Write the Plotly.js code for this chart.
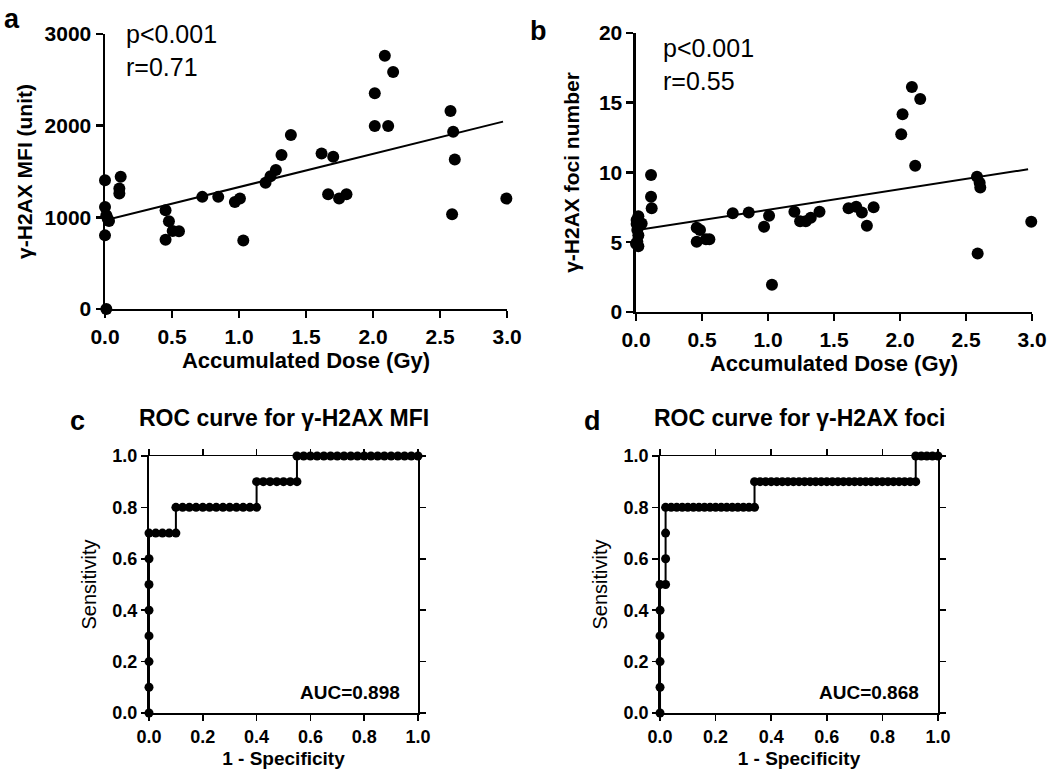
<!DOCTYPE html>
<html>
<head>
<meta charset="utf-8">
<script src="https://cdn.plot.ly/plotly-3.0.1.min.js"></script>
<style>
  body { margin: 0; background: #fff; }
  #chart { width: 1050px; height: 774px; }
</style>
</head>
<body>
<div id="chart"></div>
<script>
// panel a: MFI vs accumulated dose
const doseA = [0, 0, 0.01, 0.02, 0.03, 0, 0.01, 0.117, 0.107, 0.107, 0.452, 0.452, 0.477, 0.505, 0.552,
  0.726, 0.845, 0.969, 1.007, 1.032, 1.198, 1.235, 1.275, 1.317, 1.387, 1.616, 1.703, 1.665, 1.747, 1.802,
  2.013, 2.013, 2.088, 2.15, 2.113, 2.578, 2.598, 2.61, 2.59, 2.995];
const mfiA = [1405, 1113, 1022, 985, 960, 803, 0, 1442, 1314, 1259, 1077, 755, 956, 850, 847,
  1223, 1223, 1168, 1204, 748, 1376, 1449, 1515, 1679, 1898, 1697, 1661, 1252, 1204, 1252,
  2354, 1996, 2763, 2584, 1996, 2161, 1934, 1631, 1033, 1204];
const fitAX = [0, 2.97];
const fitAY = [967, 2044];

// panel b: foci number vs accumulated dose
const doseB = [0.018, 0.005, 0.005, 0.043, 0.01, 0.018, 0.01, 0.018, 0, 0.114, 0.114, 0.119,
  0.46, 0.485, 0.46, 0.53, 0.556, 0.733, 0.854, 0.97, 1.008, 1.03, 1.2, 1.243, 1.286, 1.324, 1.39,
  1.61, 1.668, 1.711, 1.749, 1.8, 2.009, 2.019, 2.09, 2.153, 2.115, 2.583, 2.603, 2.608, 2.588, 2.994];
const fociB = [6.87, 6.59, 6.3, 6.35, 5.87, 5.5, 5.03, 4.72, 4.9, 9.82, 8.26, 7.43,
  6.04, 5.87, 5.03, 5.22, 5.22, 7.07, 7.14, 6.11, 6.9, 1.96, 7.19, 6.51, 6.51, 6.75, 7.19,
  7.43, 7.54, 7.14, 6.18, 7.5, 12.74, 14.18, 16.12, 15.26, 10.49, 9.7, 9.27, 8.93, 4.19, 6.47];
const fitBX = [0, 2.97];
const fitBY = [5.85, 10.23];

// panel c: ROC for MFI
const rocMfiFpr = [0, 0, 0, 0, 0, 0, 0, 0,
  0.025, 0.05, 0.075, 0.1,
  0.1, 0.125, 0.15, 0.175, 0.2, 0.225, 0.25, 0.275, 0.3, 0.325, 0.35, 0.375, 0.4,
  0.4, 0.425, 0.45, 0.475, 0.5, 0.525, 0.55,
  0.55, 0.575, 0.6, 0.625, 0.65, 0.675, 0.7, 0.725, 0.75, 0.775, 0.8, 0.825, 0.85, 0.875, 0.9, 0.925, 0.95, 0.975, 1.0];
const rocMfiTpr = [0, 0.1, 0.2, 0.3, 0.4, 0.5, 0.6, 0.7,
  0.7, 0.7, 0.7, 0.7,
  0.8, 0.8, 0.8, 0.8, 0.8, 0.8, 0.8, 0.8, 0.8, 0.8, 0.8, 0.8, 0.8,
  0.9, 0.9, 0.9, 0.9, 0.9, 0.9, 0.9,
  1, 1, 1, 1, 1, 1, 1, 1, 1, 1, 1, 1, 1, 1, 1, 1, 1, 1, 1];

// panel d: ROC for foci
const rocFociFpr = [0, 0, 0, 0, 0, 0,
  0.02, 0.02, 0.02, 0.02,
  0.04, 0.06, 0.08, 0.1, 0.12, 0.14, 0.16, 0.18, 0.2, 0.22, 0.24, 0.26, 0.28, 0.3, 0.32, 0.34,
  0.34, 0.36, 0.38, 0.4, 0.42, 0.44, 0.46, 0.48, 0.5, 0.52, 0.54, 0.56, 0.58, 0.6, 0.62, 0.64, 0.66,
  0.68, 0.7, 0.72, 0.74, 0.76, 0.78, 0.8, 0.82, 0.84, 0.86, 0.88, 0.9, 0.92,
  0.92, 0.94, 0.96, 0.98, 1.0];
const rocFociTpr = [0, 0.1, 0.2, 0.3, 0.4, 0.5,
  0.5, 0.6, 0.7, 0.8,
  0.8, 0.8, 0.8, 0.8, 0.8, 0.8, 0.8, 0.8, 0.8, 0.8, 0.8, 0.8, 0.8, 0.8, 0.8, 0.8,
  0.9, 0.9, 0.9, 0.9, 0.9, 0.9, 0.9, 0.9, 0.9, 0.9, 0.9, 0.9, 0.9, 0.9, 0.9, 0.9, 0.9,
  0.9, 0.9, 0.9, 0.9, 0.9, 0.9, 0.9, 0.9, 0.9, 0.9, 0.9, 0.9, 0.9,
  1, 1, 1, 1, 1];

const doseTicks = [0, 0.5, 1, 1.5, 2, 2.5, 3];
const mfiTicks = [0, 1000, 2000, 3000];
const fociTicks = [0, 5, 10, 15, 20];
const rocTicks = [0, 0.2, 0.4, 0.6, 0.8, 1.0];

const FONT = 'Liberation Sans, Arial, sans-serif';

function dots(x, y, xa, ya, size) {
  return {
    x: x, y: y, xaxis: xa, yaxis: ya,
    type: 'scatter', mode: 'markers', cliponaxis: false,
    marker: { color: '#000', size: size }
  };
}

function fitLine(x, y, xa, ya) {
  return {
    x: x, y: y, xaxis: xa, yaxis: ya,
    type: 'scatter', mode: 'lines', cliponaxis: false,
    line: { color: '#000', width: 2 }
  };
}

function roc(x, y, xa, ya) {
  return {
    x: x, y: y, xaxis: xa, yaxis: ya,
    type: 'scatter', mode: 'lines+markers', cliponaxis: false,
    line: { color: '#000', width: 2 },
    marker: { color: '#000', size: 9 }
  };
}

// empty trace so the frame axes get drawn
function blank(xa, ya) {
  return { x: [], y: [], xaxis: xa, yaxis: ya, type: 'scatter', mode: 'markers' };
}

function axis(domain, range, ticks, fmt, title, extra) {
  const ax = {
    domain: domain, range: range,
    tickmode: 'array', tickvals: ticks, tickformat: fmt,
    showgrid: false, zeroline: false,
    showline: true, linecolor: '#000', linewidth: 2.5,
    ticks: 'outside', ticklen: 7, tickwidth: 2.5, tickcolor: '#000',
    tickfont: { family: FONT, size: 21, weight: 'bold', color: '#000' },
    title: title
  };
  return Object.assign(ax, extra || {});
}

// frame axes for the ROC panels: thin top line, normal right line, ticks only
function frame(domain, ticks, side, anchor, overlay, width) {
  return {
    domain: domain, range: [0, 1], side: side, anchor: anchor, overlaying: overlay,
    tickmode: 'array', tickvals: ticks, showticklabels: false,
    showgrid: false, zeroline: false,
    showline: true, linecolor: '#000', linewidth: width,
    ticks: 'outside', ticklen: 6, tickwidth: 1.5, tickcolor: '#000'
  };
}

const data = [
  dots(doseA, mfiA, 'x', 'y', 12),
  fitLine(fitAX, fitAY, 'x', 'y'),
  dots(doseB, fociB, 'x2', 'y2', 12),
  fitLine(fitBX, fitBY, 'x2', 'y2'),
  blank('x5', 'y5'),
  blank('x6', 'y6'),
  roc(rocMfiFpr, rocMfiTpr, 'x3', 'y3'),
  roc(rocFociFpr, rocFociTpr, 'x4', 'y4')
];

const doseTitle = { text: 'Accumulated Dose (Gy)', font: { family: FONT, size: 22, weight: 'bold', color: '#000' }, standoff: 4 };
const specTitle = { text: '1 - Specificity', font: { family: FONT, size: 19, weight: 'bold', color: '#000' }, standoff: 6 };
const sensTitle = { text: 'Sensitivity', font: { family: FONT, size: 20, color: '#000' }, standoff: 10 };
const rocExtra = { linewidth: 2, tickwidth: 1.5, ticklen: 6, tickfont: { family: FONT, size: 18, weight: 'bold', color: '#000' } };

const rocXc = [0.1419, 0.3981];
const rocXd = [0.6286, 0.8933];
const rocY = [0.0788, 0.4109];

const layout = {
  width: 1050, height: 774,
  margin: { l: 0, r: 0, t: 0, b: 0 },
  paper_bgcolor: '#fff', plot_bgcolor: 'rgba(0,0,0,0)',
  showlegend: false,
  font: { family: FONT, color: '#000' },
  xaxis: axis([0.1, 0.4829], [0, 3], doseTicks, '.1f', doseTitle, { anchor: 'y' }),
  yaxis: axis([0.6008, 0.9561], [0, 3000], mfiTicks, 'd',
    { text: 'γ-H2AX MFI (unit)', font: { family: FONT, size: 21, weight: 'bold', color: '#000' }, standoff: 6 }, { anchor: 'x' }),
  xaxis2: axis([0.6057, 0.9829], [0, 3], doseTicks, '.1f', doseTitle, { anchor: 'y2' }),
  yaxis2: axis([0.5969, 0.9574], [0, 20], fociTicks, 'd',
    { text: 'γ-H2AX foci number', font: { family: FONT, size: 21, weight: 'bold', color: '#000' }, standoff: 14 }, { anchor: 'x2' }),
  xaxis3: axis(rocXc, [0, 1], rocTicks, '.1f', specTitle, Object.assign({ anchor: 'y3' }, rocExtra)),
  yaxis3: axis(rocY, [0, 1], rocTicks, '.1f', sensTitle, Object.assign({ anchor: 'x3' }, rocExtra)),
  xaxis4: axis(rocXd, [0, 1], rocTicks, '.1f', specTitle, Object.assign({ anchor: 'y4' }, rocExtra)),
  yaxis4: axis(rocY, [0, 1], rocTicks, '.1f', sensTitle, Object.assign({ anchor: 'x4' }, rocExtra)),
  xaxis5: frame(rocXc, rocTicks, 'top', 'y5', 'x3', 1.2),
  yaxis5: frame(rocY, rocTicks, 'right', 'x5', 'y3', 2),
  xaxis6: frame(rocXd, rocTicks, 'top', 'y6', 'x4', 1.2),
  yaxis6: frame(rocY, rocTicks, 'right', 'x6', 'y4', 2),
  annotations: [
    { text: '<b>a</b>', x: 2, y: 2, xanchor: 'left', yanchor: 'top' },
    { text: '<b>b</b>', x: 528, y: 14, xanchor: 'left', yanchor: 'top' },
    { text: '<b>c</b>', x: 68, y: 404, xanchor: 'left', yanchor: 'top' },
    { text: '<b>d</b>', x: 582, y: 404, xanchor: 'left', yanchor: 'top' }
  ].map(a => Object.assign(a, {
    xref: 'paper', yref: 'paper', x: a.x / 1050, y: 1 - a.y / 774,
    showarrow: false, font: { family: FONT, size: 27, color: '#000' }
  })).concat([
    { text: 'p<0.001<br>r=0.71', xref: 'x', yref: 'paper', x: 0.14, y: 1 - 18 / 774,
      xanchor: 'left', yanchor: 'top', align: 'left', showarrow: false,
      font: { family: FONT, size: 25, color: '#000' } },
    { text: 'p<0.001<br>r=0.55', xref: 'x2', yref: 'paper', x: 0.19, y: 1 - 32 / 774,
      xanchor: 'left', yanchor: 'top', align: 'left', showarrow: false,
      font: { family: FONT, size: 25, color: '#000' } },
    { text: '<b>ROC curve for γ-H2AX MFI</b>', xref: 'x3', yref: 'paper', x: 0.5, y: 1 - 418 / 774,
      xanchor: 'center', yanchor: 'middle', showarrow: false,
      font: { family: FONT, size: 23, color: '#000' } },
    { text: '<b>ROC curve for γ-H2AX foci</b>', xref: 'x4', yref: 'paper', x: 0.5, y: 1 - 418 / 774,
      xanchor: 'center', yanchor: 'middle', showarrow: false,
      font: { family: FONT, size: 23, color: '#000' } },
    { text: '<b>AUC=0.898</b>', xref: 'x3', yref: 'y3', x: 0.94, y: 0.08,
      xanchor: 'right', yanchor: 'middle', showarrow: false,
      font: { family: FONT, size: 19, color: '#000' } },
    { text: '<b>AUC=0.868</b>', xref: 'x4', yref: 'y4', x: 0.94, y: 0.08,
      xanchor: 'right', yanchor: 'middle', showarrow: false,
      font: { family: FONT, size: 19, color: '#000' } }
  ])
};

Plotly.newPlot('chart', data, layout, { displayModeBar: false, staticPlot: true });
</script>
</body>
</html>
